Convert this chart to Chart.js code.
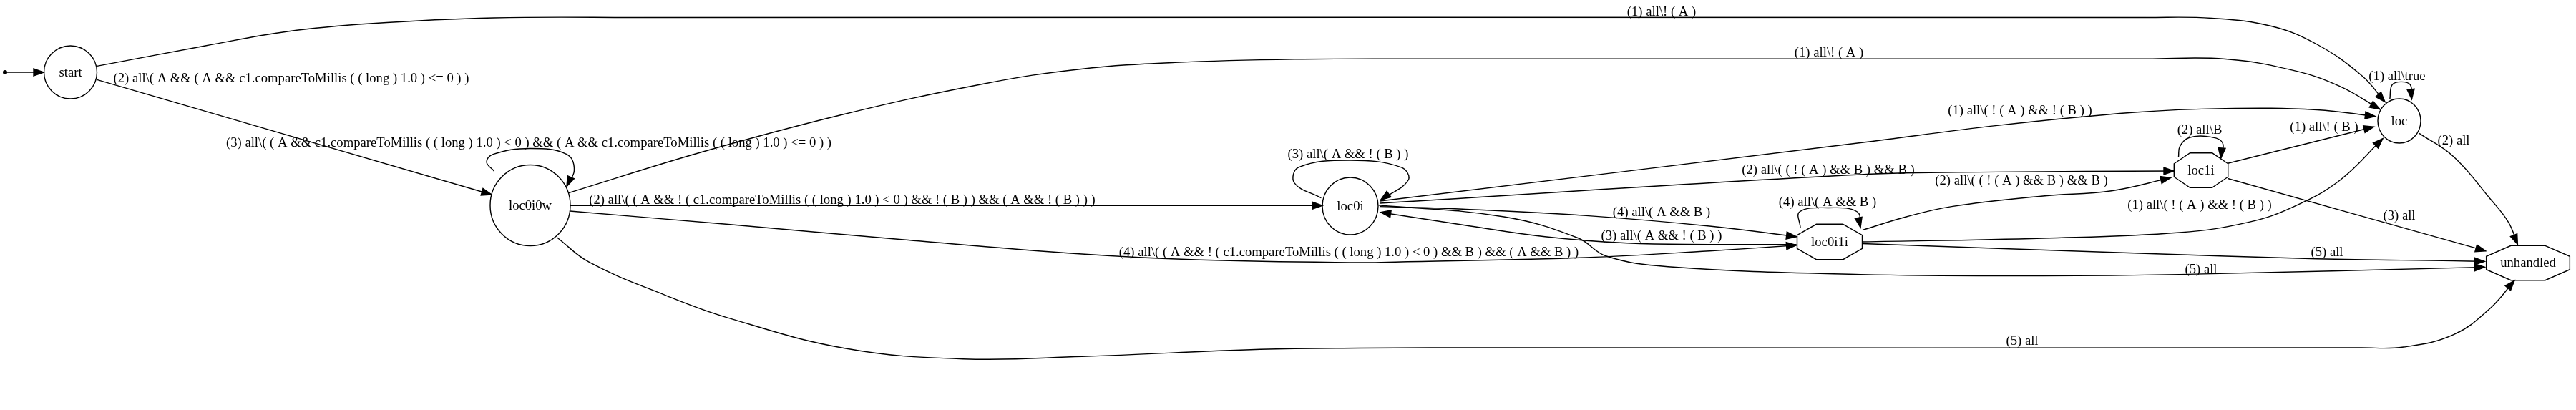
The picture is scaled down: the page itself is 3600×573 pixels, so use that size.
<!DOCTYPE html>
<html>
<head>
<meta charset="utf-8">
<title>automaton</title>
<script src="https://cdn.jsdelivr.net/npm/chart.js@4.4.1/dist/chart.umd.min.js"></script>
<style>
  html, body { margin: 0; padding: 0; background: #fff; }
  #wrap { width: 3600px; height: 573px; position: relative; }
</style>
</head>
<body>
<div id="wrap"><canvas id="graph"></canvas></div>
<script>
// nodes (graph units = pixels of the drawing)
var nodeNames = ['init', 'start', 'loc0i0w', 'loc0i', 'loc0i1i', 'loc1i', 'loc', 'unhandled'];
var nodeX = [7, 98.5, 741, 1887, 2557, 3076, 3353, 3533];
var nodeY = [101, 101, 287, 288, 338, 238, 169, 367.5];
var nodeShape = ['point', 'circle', 'circle', 'circle', 'octagon', 'octagon', 'circle', 'octagon'];

// edges
var edgeFrom = ['init', 'start', 'start', 'loc0i0w', 'loc0i0w', 'loc0i0w', 'loc0i0w', 'loc0i0w',
    'loc0i', 'loc0i', 'loc0i', 'loc0i', 'loc0i1i', 'loc0i', 'loc0i1i', 'loc0i1i', 'loc0i1i', 'loc0i1i',
    'loc1i', 'loc1i', 'loc1i', 'loc', 'loc'];
var edgeTo = ['start', 'loc', 'loc0i0w', 'loc0i0w', 'loc', 'loc0i', 'loc0i1i', 'unhandled',
    'loc0i', 'loc', 'loc1i', 'loc0i1i', 'loc0i', 'unhandled', 'loc0i1i', 'loc1i', 'loc', 'unhandled',
    'loc1i', 'loc', 'unhandled', 'loc', 'unhandled'];
var edgeLabels = [
    '',
    '(1) all\\! ( A )',
    '(2) all\\( A && ( A && c1.compareToMillis ( ( long ) 1.0 ) <= 0 ) )',
    '(3) all\\( ( A && c1.compareToMillis ( ( long ) 1.0 ) < 0 ) && ( A && c1.compareToMillis ( ( long ) 1.0 ) <= 0 ) )',
    '(1) all\\! ( A )',
    '(2) all\\( ( A && ! ( c1.compareToMillis ( ( long ) 1.0 ) < 0 ) && ! ( B ) ) && ( A && ! ( B ) ) )',
    '(4) all\\( ( A && ! ( c1.compareToMillis ( ( long ) 1.0 ) < 0 ) && B ) && ( A && B ) )',
    '(5) all',
    '(3) all\\( A && ! ( B ) )',
    '(1) all\\( ! ( A ) && ! ( B ) )',
    '(2) all\\( ( ! ( A ) && B ) && B )',
    '(4) all\\( A && B )',
    '(3) all\\( A && ! ( B ) )',
    '(5) all',
    '(4) all\\( A && B )',
    '(2) all\\( ( ! ( A ) && B ) && B )',
    '(1) all\\( ! ( A ) && ! ( B ) )',
    '(5) all',
    '(2) all\\B',
    '(1) all\\! ( B )',
    '(3) all',
    '(1) all\\true',
    '(2) all'
];
var edgeLabelX = [0, 2322, 407, 739, 2556, 1177, 1885, 2826, 1884, 2823, 2555, 2322, 2322, 3076,
    2554, 2825, 3074, 3252, 3074, 3248, 3353, 3350, 3429];
var edgeLabelY = [0, 16, 109, 199, 73, 279.5, 352, 476, 215.5, 154, 237.5, 296.5, 329, 376,
    282, 252, 286, 352.5, 181.5, 177, 301.5, 106, 196.5];
// route points, last point = arrow tip
var edgeRoutes = [
    [[9, 101], [61, 101]],
    [[135.5, 92.4], [287, 64], [402, 44], [517, 33], [690, 25], [900, 24.5], [3000, 24.5], [3091, 25.5], [3174, 36.5], [3238, 62], [3301, 106], [3333, 142.5]],
    [[135.5, 111.4], [687, 272]],
    [[690.6, 239.3], [680, 226.5], [689, 215.6], [740.5, 207.5], [792, 215.6], [802.5, 237.5], [792, 260.5]],
    [[795, 269.5], [979, 213], [1178, 160], [1377, 116.7], [1509, 96.7], [1642, 87.3], [1820, 82.7], [2000, 82.2], [3000, 82.2], [3110, 82.5], [3206, 98.6], [3270, 120.6], [3326, 152.7]],
    [[797, 287.3], [1848, 287.3]],
    [[796.5, 295], [1014.6, 313.3], [1263, 335], [1512, 355], [1678, 363.3], [1900, 367], [1958, 366], [2216.6, 360], [2389, 350.7], [2510.6, 342.7]],
    [[778.3, 331.7], [823.9, 366.7], [931.7, 413.3], [1014.6, 443.3], [1180.4, 486.7], [1346, 501.7], [1512, 498.3], [1761, 488.3], [1900, 486.5], [2100, 486], [3300, 486], [3359, 485], [3429, 467.7], [3480, 431], [3514, 392]],
    [[1846.4, 276.6], [1809, 255.8], [1814.8, 233.8], [1886.6, 224], [1958.3, 233.8], [1968, 252], [1929.6, 279.5]],
    [[1928.5, 281], [2600, 199.5], [2791, 175.4], [2983, 157], [3110, 151.6], [3238, 153.5], [3319.4, 162.6]],
    [[1928.5, 284], [2600, 244], [2791, 240.4], [3038, 239]],
    [[1928.5, 288.6], [2044, 292.3], [2216.6, 301.4], [2389, 316], [2510.6, 330.7]],
    [[2510.6, 341.6], [2389, 341.6], [2274, 339.8], [2159, 330.7], [2044, 314.2], [1929.6, 296.7]],
    [[1926.7, 286.8], [2101.8, 303], [2205, 332.5], [2245, 358], [2331, 372.7], [2600, 383.6], [2855, 385.5], [3046, 383.6], [3472.4, 373.4]],
    [[2516, 318], [2515, 296], [2555, 290.5], [2595.5, 296], [2600, 318]],
    [[2603, 321.5], [2664, 303], [2727.5, 288.6], [2855, 274], [2950.8, 266.7], [3033.7, 248.4]],
    [[2603, 338], [2855, 333], [3046, 325], [3142, 310.6], [3206, 288.6], [3270, 252], [3330, 193.6]],
    [[2603, 340.5], [2982.6, 353.7], [3237.8, 361.7], [3429, 364.6], [3472.4, 365.4]],
    [[3044.5, 219.2], [3046.4, 204.6], [3059, 192.5], [3084.7, 190.7], [3105.7, 199], [3103.8, 221]],
    [[3113.4, 228.3], [3317.5, 177.2]],
    [[3113.4, 249.5], [3473.7, 350.7]],
    [[3339.8, 138.8], [3343, 118.7], [3355.7, 114.4], [3368.5, 118.7], [3370.4, 138.8]],
    [[3381, 186.3], [3429, 219], [3480, 277.7], [3505.6, 310.6], [3518.4, 341.6]]
];

// looks
var FONT = '18.67px "Liberation Serif", "Times New Roman", serif';
var INK = '#000';
var nodeSize = {
    init: [3, 3], start: [37, 37], loc0i0w: [56, 56.5], loc0i: [39, 40],
    loc0i1i: [91, 49.4], loc1i: [75.4, 48.6], loc: [30, 31], unhandled: [116.7, 48.4]
};

var edgeSets = edgeRoutes.map(function(route, i) {
    return {
        label: edgeFrom[i] + '->' + edgeTo[i],
        data: route.map(function(p) { return { x: p[0], y: p[1] }; }),
        showLine: true,
        tension: 0.4,
        borderColor: INK,
        borderWidth: 1.4,
        pointRadius: 0,
        fill: false
    };
});

var nodeSet = {
    label: 'nodes',
    data: nodeNames.map(function(n, i) { return { x: nodeX[i], y: nodeY[i] }; }),
    pointRadius: 0,
    showLine: false
};

function octagon(ctx, cx, cy, w, h) {
    var a = 0.205 * w, b = 0.19 * h, hw = w / 2, hh = h / 2;
    var pts = [[a, -hh], [hw, -b], [hw, b], [a, hh], [-a, hh], [-hw, b], [-hw, -b], [-a, -hh]];
    ctx.beginPath();
    pts.forEach(function(p, k) {
        if (k === 0) ctx.moveTo(cx + p[0], cy + p[1]);
        else ctx.lineTo(cx + p[0], cy + p[1]);
    });
    ctx.closePath();
    ctx.stroke();
}

var graphPlugin = {
    id: 'graph',
    afterDatasetsDraw: function(chart) {
        var ctx = chart.ctx;
        var xs = chart.scales.x, ys = chart.scales.y;
        var sx = xs.getPixelForValue(1) - xs.getPixelForValue(0);
        var sy = ys.getPixelForValue(1) - ys.getPixelForValue(0);
        ctx.save();
        ctx.strokeStyle = INK;
        ctx.fillStyle = INK;
        ctx.lineWidth = 1.4;

        // arrow heads
        for (var i = 0; i < edgeRoutes.length; i++) {
            var pts = chart.getDatasetMeta(i).data;
            var tip = pts[pts.length - 1];
            var bx = tip.cp1x, by = tip.cp1y;
            if (bx === undefined || (Math.abs(bx - tip.x) < 0.01 && Math.abs(by - tip.y) < 0.01)) {
                bx = pts[pts.length - 2].x; by = pts[pts.length - 2].y;
            }
            var ang = Math.atan2(tip.y - by, tip.x - bx);
            var len = 14, half = 5;
            ctx.beginPath();
            ctx.moveTo(tip.x, tip.y);
            ctx.lineTo(tip.x - len * Math.cos(ang) - half * Math.sin(ang), tip.y - len * Math.sin(ang) + half * Math.cos(ang));
            ctx.lineTo(tip.x - len * Math.cos(ang) + half * Math.sin(ang), tip.y - len * Math.sin(ang) - half * Math.cos(ang));
            ctx.closePath();
            ctx.fill();
            ctx.stroke();
        }

        // nodes
        var nodes = chart.getDatasetMeta(edgeRoutes.length).data;
        ctx.font = FONT;
        ctx.textAlign = 'center';
        ctx.textBaseline = 'middle';
        nodes.forEach(function(pt, k) {
            var name = nodeNames[k], sz = nodeSize[name];
            if (nodeShape[k] === 'point') {
                ctx.beginPath();
                ctx.arc(pt.x, pt.y, sz[0] * sx, 0, Math.PI * 2);
                ctx.fill();
                return;
            }
            if (nodeShape[k] === 'circle') {
                ctx.beginPath();
                ctx.ellipse(pt.x, pt.y, sz[0] * sx, Math.abs(sz[1] * sy), 0, 0, Math.PI * 2);
                ctx.stroke();
            } else {
                octagon(ctx, pt.x, pt.y, sz[0] * sx, Math.abs(sz[1] * sy));
            }
            ctx.fillText(name, pt.x, pt.y + 1);
        });

        // edge labels
        for (var j = 0; j < edgeLabels.length; j++) {
            if (!edgeLabels[j]) continue;
            ctx.fillText(edgeLabels[j], xs.getPixelForValue(edgeLabelX[j]), ys.getPixelForValue(edgeLabelY[j]) + 1);
        }
        ctx.restore();
    }
};

var ctx = document.getElementById('graph').getContext('2d');
window.graphChart = new Chart(ctx, {
    type: 'scatter',
    data: { datasets: edgeSets.concat([nodeSet]) },
    options: {
        responsive: true,
        maintainAspectRatio: false,
        animation: false,
        events: [],
        layout: { padding: 0 },
        scales: {
            x: { type: 'linear', min: 0, max: 3600, display: false },
            y: { type: 'linear', min: 0, max: 573, reverse: true, display: false }
        },
        plugins: {
            legend: { display: false },
            tooltip: { enabled: false }
        }
    },
    plugins: [graphPlugin]
});
</script>
</body>
</html>
